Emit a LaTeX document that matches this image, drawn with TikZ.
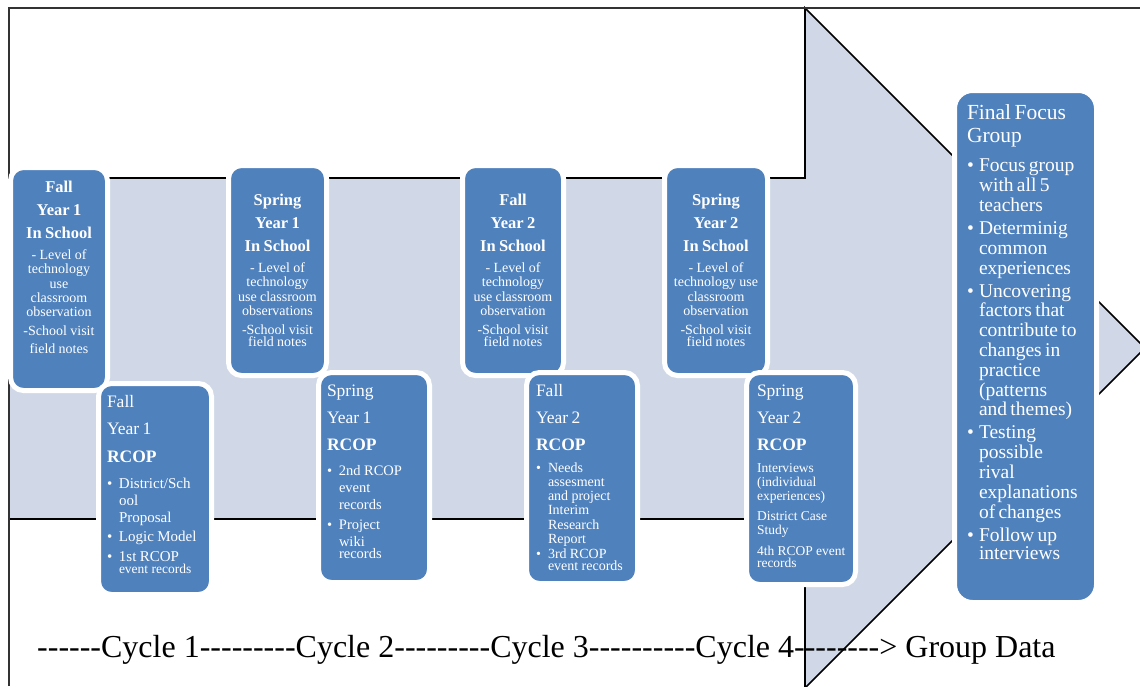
\documentclass[tikz,border=0pt]{standalone}
\usepackage{fontspec}
\setmainfont{Liberation Serif}
\newfontfamily\capfont[Ligatures=TeXOff]{Liberation Serif}
\usepackage{tikz}
\usetikzlibrary{positioning}

\definecolor{boxblue}{RGB}{79,129,189}
\definecolor{arrowfill}{RGB}{208,216,232}
\setlength{\parindent}{0pt}
\newcommand{\bul}{\makebox[12pt][l]{\textbullet}}
\newcommand{\ind}{\hspace*{12pt}}

\begin{document}
\begin{tikzpicture}[x=1pt,y=-1pt,
	blk/.style={draw=white,line width=5pt,fill=boxblue,rounded corners=13pt,inner sep=0pt,outer sep=0pt},
	txt/.style={text=white,inner sep=0pt,outer sep=0pt}]
			
			\useasboundingbox (0,0) rectangle (1140,686);
			\clip (0,0) rectangle (1140,686);
			
			% big arrow behind the cycles
			\draw[fill=arrowfill,line width=1.6pt] (9,178) -- (805,178) -- (805,8) -- (1145,348) -- (805,688) -- (805,519) -- (9,519) -- cycle;
			\draw[black!80,line width=1.5pt] (9,686) -- (9,8) -- (1140,8);
			
			% boxes
			\node[blk,minimum width=97,minimum height=223] (s1) at (59,279) {};
			\node[blk,minimum width=113,minimum height=211] (r1) at (155,489) {};
			\node[blk,minimum width=98,minimum height=210] (s2) at (277.5,270.5) {};
			\node[blk,minimum width=111,minimum height=210] (r2) at (374,477.5) {};
			\node[blk,minimum width=101,minimum height=210] (s3) at (513,270.5) {};
			\node[blk,minimum width=111,minimum height=211] (r3) at (582,478) {};
			\node[blk,minimum width=103,minimum height=210] (s4) at (716,270.5) {};
			\node[blk,minimum width=109,minimum height=212] (r4) at (801,478.5) {};
			\node[blk,rounded corners=18pt,minimum width=142,minimum height=512] (ff) at (1025.5,346.5) {};
			
			% in school
			\node[txt,anchor=north,text width=92pt,align=center] (t1) at (59,181) {\fontsize{16.5}{23}\selectfont\bfseries Fall\\Year 1\\In School\par
				\vspace{6.7pt}\fontsize{14}{14.3}\selectfont\mdseries - Level of\\technology\\use\\classroom\\observation\par
				\vspace{4.7pt}-School visit\par
				\vspace{5.7pt}field notes};
			\node[txt,anchor=north,text width=93pt,align=center] (t2) at (277.5,194) {\fontsize{16.5}{23}\selectfont\bfseries Spring\\Year 1\\In School\par
				\vspace{6.7pt}\fontsize{14}{14.3}\selectfont\mdseries - Level of\\technology\\use classroom\\observations\par
				\vspace{4.7pt}-School visit\\field notes};
			\node[txt,anchor=north,text width=96pt,align=center] (t3) at (513,194) {\fontsize{16.5}{23}\selectfont\bfseries Fall\\Year 2\\In School\par
				\vspace{6.7pt}\fontsize{14}{14.3}\selectfont\mdseries - Level of\\technology\\use classroom\\observation\par
				\vspace{4.7pt}-School visit\\field notes};
			\node[txt,anchor=north,text width=98pt,align=center] (t4) at (716,194) {\fontsize{16.5}{23}\selectfont\bfseries Spring\\Year 2\\In School\par
				\vspace{6.7pt}\fontsize{14}{14.3}\selectfont\mdseries - Level of\\technology use\\classroom\\observation\par
				\vspace{4.7pt}-School visit\\field notes};
			
			% RCOP
			\node[txt,anchor=north west,text width=100pt,align=left] (u1) at (107,395) {\fontsize{17.5}{27.5}\selectfont Fall\\Year 1\\\textbf{RCOP}\par
				\vspace{9pt}\fontsize{15}{17}\selectfont\bul District/Sch\\\ind ool\\\ind Proposal\par
				\vspace{2.5pt}\bul Logic Model\par
				\vspace{2.5pt}\bul 1st RCOP\par
				\fontsize{13.5}{14.5}\selectfont\leavevmode\ind event records};
			\node[txt,anchor=north west,text width=98pt,align=left] (u2) at (327,385) {\fontsize{17.5}{27}\selectfont Spring\\Year 1\\\textbf{RCOP}\par
				\vspace{8pt}\fontsize{14.5}{17}\selectfont\bul 2nd RCOP\\\ind event\\\ind records\par
				\vspace{2pt}\fontsize{14.5}{17.5}\selectfont\bul Project\\\ind wiki\\\ind records};
			\node[txt,anchor=north west,text width=97pt,align=left] (u3) at (536,384) {\fontsize{17.5}{27}\selectfont Fall\\Year 2\\\textbf{RCOP}\par
				\vspace{8pt}\fontsize{14}{14.2}\selectfont\bul Needs\\\ind assesment\\\ind and project\\\ind Interim\\\ind Research\\\ind Report\par
				\vspace{1pt}\bul 3rd RCOP\\\ind event records};
			\node[txt,anchor=north west,text width=95pt,align=left] (u4) at (757,385) {\fontsize{17.5}{27}\selectfont Spring\\Year 2\\\textbf{RCOP}\par
				\vspace{8pt}\fontsize{13.5}{14}\selectfont Interviews\\(individual\\experiences)\par
				\vspace{6pt}District Case\\Study\par
				\vspace{7pt}4th RCOP event\\records};
			
			% final focus group
			\node[txt,anchor=north west,text width=125pt,align=left] (tf) at (967,105) {\fontsize{21.5}{23}\selectfont Final Focus\\Group\par
				\vspace{9.2pt}\fontsize{19.5}{19.8}\selectfont\bul Focus group\\\ind with all 5\\\ind teachers\par
				\vspace{3.2pt}\bul Determinig\\\ind common\\\ind experiences\par
				\vspace{3.2pt}\bul Uncovering\\\ind factors that\\\ind contribute to\\\ind changes in\\\ind practice\\\ind (patterns\\\ind and themes)\par
				\vspace{3.2pt}\bul Testing\\\ind possible\\\ind rival\\\ind explanations\\\ind of changes\par
				\vspace{3.2pt}\bul Follow up\\\ind interviews};
			
			\node[inner sep=0pt,anchor=base west,font=\capfont\fontsize{32}{36}\selectfont] (cyc) at (37,657) {------Cycle 1---------Cycle 2---------Cycle 3----------Cycle 4--------> Group Data};
			
		\end{tikzpicture}
\end{document}
